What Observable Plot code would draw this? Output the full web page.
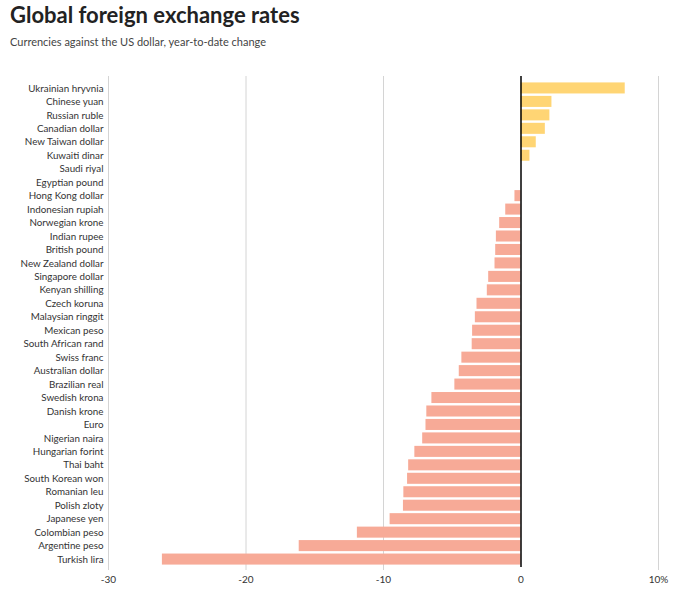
<!DOCTYPE html>
<html>
<head>
<meta charset="utf-8">
<script src="https://cdn.jsdelivr.net/npm/d3@7"></script>
<script src="https://cdn.jsdelivr.net/npm/@observablehq/plot@0.6"></script>
<style>
  body { margin: 0; padding: 0; background: #fff; font-family: Lato, "Noto Sans", sans-serif; }
  #wrap { width: 680px; }
  .title { margin: 0 0 0 10px; height: 30px; line-height: 30px; font-size: 22px; font-weight: 700; color: #222; }
  .subtitle { margin: 0 0 0 10px; height: 24px; line-height: 24px; font-size: 11px; color: #444; }
</style>
</head>
<body>
<div id="wrap">
  <div class="title">Global foreign exchange rates</div>
  <div class="subtitle">Currencies against the US dollar, year-to-date change</div>
  <div id="chart"></div>
</div>
<script>
const currencies = [
  "Ukrainian hryvnia", "Chinese yuan", "Russian ruble", "Canadian dollar", "New Taiwan dollar",
  "Kuwaiti dinar", "Saudi riyal", "Egyptian pound", "Hong Kong dollar", "Indonesian rupiah",
  "Norwegian krone", "Indian rupee", "British pound", "New Zealand dollar", "Singapore dollar",
  "Kenyan shilling", "Czech koruna", "Malaysian ringgit", "Mexican peso", "South African rand",
  "Swiss franc", "Australian dollar", "Brazilian real", "Swedish krona", "Danish krone",
  "Euro", "Nigerian naira", "Hungarian forint", "Thai baht", "South Korean won",
  "Romanian leu", "Polish zloty", "Japanese yen", "Colombian peso", "Argentine peso", "Turkish lira"
];
const changes = [
  7.58, 2.25, 2.1, 1.77, 1.11,
  0.65, 0, 0, -0.44, -1.11,
  -1.55, -1.79, -1.84, -1.89, -2.35,
  -2.45, -3.2, -3.32, -3.52, -3.55,
  -4.3, -4.49, -4.81, -6.48, -6.85,
  -6.91, -7.15, -7.72, -8.17, -8.25,
  -8.52, -8.55, -9.52, -11.9, -16.13, -26.08
];
const xTicks = [-30, -20, -10, 0, 10];
const xTickLabels = ["-30", "-20", "-10", "0", "10%"];
const upColor = "#ffd574";
const downColor = "#f7aa97";

const data = currencies.map((c, i) => ({currency: c, value: changes[i]}));

const chart = Plot.plot({
  width: 680,
  height: 546,
  marginTop: 22,
  marginBottom: 30,
  marginLeft: 108,
  marginRight: 22,
  style: {fontFamily: "Lato, 'Noto Sans', sans-serif", fontSize: "9.8px", color: "#333", background: "#fff"},
  x: {domain: [-30, 10], ticks: xTicks, label: null},
  y: {domain: currencies, paddingInner: 0.18, paddingOuter: 0.18, insetTop: 4, insetBottom: 3, round: false, label: null},
  marks: [
    Plot.ruleX(xTicks.filter(d => d !== 0), {stroke: "#d4d4d4", strokeWidth: 1}),
    Plot.barX(data, {x: "value", y: "currency", fill: d => d.value >= 0 ? upColor : downColor}),
    Plot.ruleX([0], {stroke: "#000", strokeWidth: 1.5, insetBottom: 3}),
    Plot.axisX({ticks: xTicks, tickSize: 0, tickPadding: 5, tickFormat: d => xTickLabels[xTicks.indexOf(d)], label: null, fontSize: 10}),
    Plot.axisY({tickSize: 0, tickPadding: 5, label: null})
  ]
});
document.getElementById("chart").appendChild(chart);
</script>
</body>
</html>
